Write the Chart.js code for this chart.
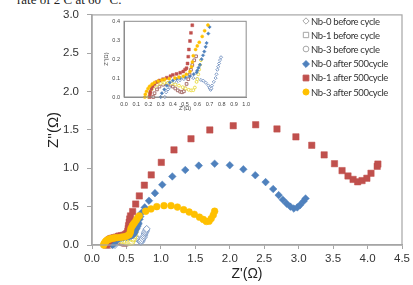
<!DOCTYPE html>
<html>
<head>
<meta charset="utf-8">
<script src="https://cdn.jsdelivr.net/npm/chart.js@4.4.0/dist/chart.umd.min.js"></script>
<style>
    html, body { margin: 0; padding: 0; background: #fff; }
    #wrap { position: relative; width: 413px; height: 285px; overflow: hidden; }
    #mainChart { position: absolute; left: 0; top: 0; }
    #insetChart { position: absolute; left: 100px; top: 14px; }
    .caption { position: absolute; left: 17px; top: -8px; font: 13px "Liberation Serif", serif; color: #222; white-space: nowrap; }
    #legend { position: absolute; left: 300px; top: 14px; font: 9.5px Lato, sans-serif; letter-spacing: -0.35px; color: #333; }
    #legend .row { height: 14.2px; display: flex; align-items: center; white-space: nowrap; }
    #legend canvas { margin-right: 0; }
</style>
</head>
<body>
<div id="wrap">
    <div class="caption">rate of 2 C at 60 °C.</div>
    <canvas id="mainChart" width="413" height="285"></canvas>
    <canvas id="insetChart" width="154" height="98"></canvas>
    <div id="legend"></div>
</div>
<script>
// --- data (Z' , Z'') ---
const nb0BeforeX = [0.334, 0.345, 0.36, 0.375, 0.40, 0.43, 0.458, 0.49, 0.52, 0.567, 0.60, 0.63, 0.649, 0.67, 0.69, 0.70, 0.709, 0.715, 0.72, 0.735, 0.75, 0.757, 0.764, 0.771, 0.778, 0.786, 0.794];
const nb0BeforeY = [0.0, 0.025, 0.04, 0.053, 0.066, 0.078, 0.089, 0.095, 0.099, 0.10, 0.097, 0.09, 0.086, 0.075, 0.061, 0.048, 0.038, 0.045, 0.06, 0.08, 0.10, 0.12, 0.144, 0.16, 0.177, 0.195, 0.21];

const nb1BeforeX = [0.24, 0.25, 0.27, 0.29, 0.32, 0.35, 0.38, 0.40, 0.42, 0.44, 0.46, 0.475, 0.49, 0.50, 0.512, 0.526, 0.537, 0.548, 0.559, 0.575, 0.59];
const nb1BeforeY = [0.0, 0.02, 0.04, 0.055, 0.065, 0.07, 0.065, 0.055, 0.045, 0.035, 0.028, 0.025, 0.03, 0.045, 0.069, 0.094, 0.119, 0.144, 0.169, 0.194, 0.215];

const nb3BeforeX = [0.20, 0.21, 0.225, 0.245, 0.27, 0.30, 0.33, 0.36, 0.39, 0.42, 0.45, 0.48, 0.505, 0.53, 0.55, 0.567, 0.58, 0.594, 0.60, 0.608, 0.615, 0.622, 0.63];
const nb3BeforeY = [0.0, 0.02, 0.04, 0.055, 0.065, 0.072, 0.075, 0.075, 0.072, 0.066, 0.06, 0.052, 0.045, 0.038, 0.035, 0.036, 0.05, 0.08, 0.094, 0.12, 0.145, 0.17, 0.195];

const nb0AfterX = [0.30, 0.31, 0.33, 0.35, 0.375, 0.40, 0.43, 0.46, 0.50, 0.54, 0.57, 0.594, 0.60, 0.61, 0.622, 0.635, 0.647, 0.657, 0.668, 0.676, 0.69, 0.70, 0.72, 0.765, 0.827, 0.914, 1.02, 1.166, 1.354, 1.55, 1.78, 2.0, 2.197, 2.37, 2.52, 2.63, 2.71, 2.77, 2.825, 2.88, 2.93, 2.98, 3.02, 3.07, 3.10];
const nb0AfterY = [0.0, 0.02, 0.04, 0.06, 0.077, 0.087, 0.095, 0.10, 0.105, 0.11, 0.12, 0.13, 0.14, 0.155, 0.17, 0.20, 0.22, 0.24, 0.265, 0.285, 0.335, 0.37, 0.42, 0.49, 0.577, 0.676, 0.786, 0.894, 0.978, 1.035, 1.06, 1.04, 0.987, 0.91, 0.82, 0.73, 0.65, 0.59, 0.54, 0.50, 0.475, 0.49, 0.52, 0.57, 0.607];

const nb1AfterX = [0.21, 0.213, 0.216, 0.225, 0.235, 0.25, 0.27, 0.29, 0.32, 0.35, 0.38, 0.40, 0.43, 0.46, 0.485, 0.50, 0.512, 0.52, 0.526, 0.531, 0.54, 0.548, 0.559, 0.59, 0.634, 0.687, 0.76, 0.86, 1.006, 1.19, 1.437, 1.71, 2.05, 2.376, 2.685, 2.96, 3.19, 3.37, 3.52, 3.63, 3.716, 3.79, 3.856, 3.92, 3.99, 4.05, 4.14, 4.15];
const nb1AfterY = [0.0, 0.015, 0.028, 0.045, 0.058, 0.07, 0.08, 0.087, 0.094, 0.102, 0.11, 0.117, 0.122, 0.128, 0.135, 0.145, 0.152, 0.177, 0.213, 0.251, 0.296, 0.339, 0.379, 0.436, 0.534, 0.64, 0.78, 0.914, 1.077, 1.24, 1.385, 1.5, 1.555, 1.568, 1.513, 1.41, 1.30, 1.175, 1.06, 0.97, 0.90, 0.855, 0.824, 0.84, 0.87, 0.935, 1.026, 1.055];

const nb3AfterX = [0.17, 0.175, 0.185, 0.197, 0.21, 0.23, 0.25, 0.28, 0.31, 0.334, 0.37, 0.417, 0.45, 0.485, 0.51, 0.54, 0.553, 0.56, 0.567, 0.586, 0.60, 0.616, 0.64, 0.66, 0.687, 0.78, 0.856, 0.94, 1.045, 1.147, 1.24, 1.33, 1.41, 1.485, 1.56, 1.616, 1.66, 1.70, 1.73, 1.76, 1.78];
const nb3AfterY = [0.0, 0.015, 0.03, 0.045, 0.057, 0.068, 0.077, 0.085, 0.09, 0.094, 0.097, 0.10, 0.105, 0.11, 0.12, 0.135, 0.16, 0.185, 0.218, 0.251, 0.27, 0.289, 0.32, 0.35, 0.38, 0.44, 0.47, 0.50, 0.513, 0.513, 0.495, 0.46, 0.43, 0.40, 0.363, 0.333, 0.307, 0.31, 0.345, 0.39, 0.44];

const seriesLabels = ['Nb-0 before cycle', 'Nb-1 before cycle', 'Nb-3 before cycle',
                      'Nb-0 after 500cycle', 'Nb-1 after 500cycle', 'Nb-3 after 500cycle'];

const mainXTicks = { min: 0, max: 4.5, step: 0.5 };
const mainYTicks = { min: 0, max: 3.0, step: 0.5 };
const insetXTicks = { min: 0, max: 1.0, step: 0.1 };
const insetYTicks = { min: 0, max: 0.4, step: 0.1 };

// marker styles: [pointStyle, fill, stroke, main radius]
const styles = [
    ['rectRot', '#ffffff', '#7f9bc6', 3.5],
    ['rect',    '#ffffff', '#a8706d', 4.2],
    ['circle',  '#ffffff', '#eadc4a', 3.2],
    ['rectRot', '#4f81bd', '#4f81bd', 3.8],
    ['rect',    '#c0504d', '#c0504d', 4.5],
    ['circle',  '#ffc000', '#ffc000', 3.4]
];
const xsList = [nb0BeforeX, nb1BeforeX, nb3BeforeX, nb0AfterX, nb1AfterX, nb3AfterX];
const ysList = [nb0BeforeY, nb1BeforeY, nb3BeforeY, nb0AfterY, nb1AfterY, nb3AfterY];

const toPoints = (xs, ys) => xs.map((x, i) => ({ x: x, y: ys[i] }));

const buildDatasets = (small) => seriesLabels.map((label, i) => ({
    label: label,
    data: toPoints(xsList[i], ysList[i]),
    pointStyle: styles[i][0],
    backgroundColor: styles[i][1],
    borderColor: styles[i][2],
    pointBackgroundColor: styles[i][1],
    pointBorderColor: styles[i][2],
    pointBorderWidth: i < 3 ? 1 : 0.5,
    pointRadius: small ? styles[i][3] * 0.45 : styles[i][3],
    showLine: false,
    order: 5 - i,
    clip: small ? 2 : false
}));

// frame around plot area (top/right lines of the Excel box)
const framePlugin = {
    id: 'frame',
    afterDraw(chart, args, opts) {
        const a = chart.chartArea;
        const ctx = chart.ctx;
        ctx.save();
        ctx.strokeStyle = opts.color || '#a6a6a6';
        ctx.lineWidth = opts.width || 1;
        ctx.strokeRect(a.left, a.top, a.right - a.left, a.bottom - a.top);
        ctx.restore();
    }
};

const axisColor = '#a6a6a6';
const fmt = (v) => Number(v).toFixed(1);

// ============================================================
// MAIN CHART
// ============================================================
new Chart(document.getElementById('mainChart'), {
    type: 'scatter',
    data: { datasets: buildDatasets(false) },
    plugins: [framePlugin],
    options: {
        responsive: false,
        animation: false,
        layout: { padding: { left: 0, right: 11, top: 12, bottom: 0 } },
        plugins: {
            legend: { display: false },
            tooltip: { enabled: false },
            frame: { color: '#a6a6a6', width: 1.2 }
        },
        scales: {
            x: {
                type: 'linear',
                min: mainXTicks.min, max: mainXTicks.max,
                afterFit: (s) => { s.height = 40; },
                grid: { drawOnChartArea: false, drawTicks: true, tickLength: 4, color: axisColor },
                border: { color: axisColor, width: 1.5 },
                ticks: { stepSize: mainXTicks.step, callback: fmt, color: '#333', padding: 3,
                         font: { family: 'Liberation Sans', size: 11.5 } },
                title: { display: true, text: "Z'(Ω)", color: '#222', padding: { top: 0, bottom: 2 },
                         font: { family: 'Liberation Sans', size: 14 } }
            },
            y: {
                type: 'linear',
                min: mainYTicks.min, max: mainYTicks.max,
                afterFit: (s) => { s.width = 92; },
                grid: { drawOnChartArea: false, drawTicks: true, tickLength: 5, color: axisColor },
                border: { color: axisColor, width: 1.5 },
                ticks: { stepSize: mainYTicks.step, callback: fmt, color: '#333', padding: 8,
                         font: { family: 'Liberation Sans', size: 11.5 } },
                title: { display: true, text: "Z''(Ω)", color: '#222', padding: { top: 45, bottom: 0 },
                         font: { family: 'Liberation Sans', size: 15 } }
            }
        }
    }
});

// ============================================================
// INSET CHART
// ============================================================
new Chart(document.getElementById('insetChart'), {
    type: 'scatter',
    data: { datasets: buildDatasets(true) },
    plugins: [framePlugin],
    options: {
        responsive: false,
        animation: false,
        layout: { padding: { left: 0, right: 5, top: 3, bottom: 0 } },
        plugins: {
            legend: { display: false },
            tooltip: { enabled: false },
            frame: { color: '#8c8c8c', width: 1 }
        },
        scales: {
            x: {
                type: 'linear',
                min: insetXTicks.min, max: insetXTicks.max,
                afterFit: (s) => { s.height = 15; },
                grid: { display: false, drawTicks: false },
                border: { color: '#8c8c8c' },
                ticks: { stepSize: insetXTicks.step, callback: fmt, color: '#444', padding: 4,
                         autoSkip: false, maxRotation: 0, font: { family: 'Liberation Sans', size: 5.5 } },
                title: { display: true, text: "Z'(Ω)", color: '#444', padding: 0,
                         font: { family: 'Liberation Sans', size: 5.5 } }
            },
            y: {
                type: 'linear',
                min: insetYTicks.min, max: insetYTicks.max,
                afterFit: (s) => { s.width = 24; },
                grid: { display: false, drawTicks: false },
                border: { color: '#8c8c8c' },
                ticks: { stepSize: insetYTicks.step, callback: fmt, color: '#444', padding: 4,
                         font: { family: 'Liberation Sans', size: 5.5 } },
                title: { display: true, text: "Z''(Ω)", color: '#444', padding: { top: 3, bottom: 0 },
                         font: { family: 'Liberation Sans', size: 5.5 } }
            }
        }
    }
});

// ============================================================
// LEGEND (inside plot, top right)
// ============================================================
const legendEl = document.getElementById('legend');
seriesLabels.forEach((label, i) => {
    const row = document.createElement('div');
    row.className = 'row';
    const c = document.createElement('canvas');
    c.width = 11; c.height = 12;
    const ctx = c.getContext('2d');
    ctx.fillStyle = styles[i][1];
    ctx.strokeStyle = i < 3 ? '#a6a6a6' : styles[i][2];
    ctx.lineWidth = 1;
    Chart.helpers.drawPoint(ctx, { pointStyle: styles[i][0], radius: styles[i][3] * 0.9, borderWidth: 1, rotation: 0 }, 6, 6);
    row.appendChild(c);
    const span = document.createElement('span');
    span.textContent = label;
    row.appendChild(span);
    legendEl.appendChild(row);
});
</script>
</body>
</html>
